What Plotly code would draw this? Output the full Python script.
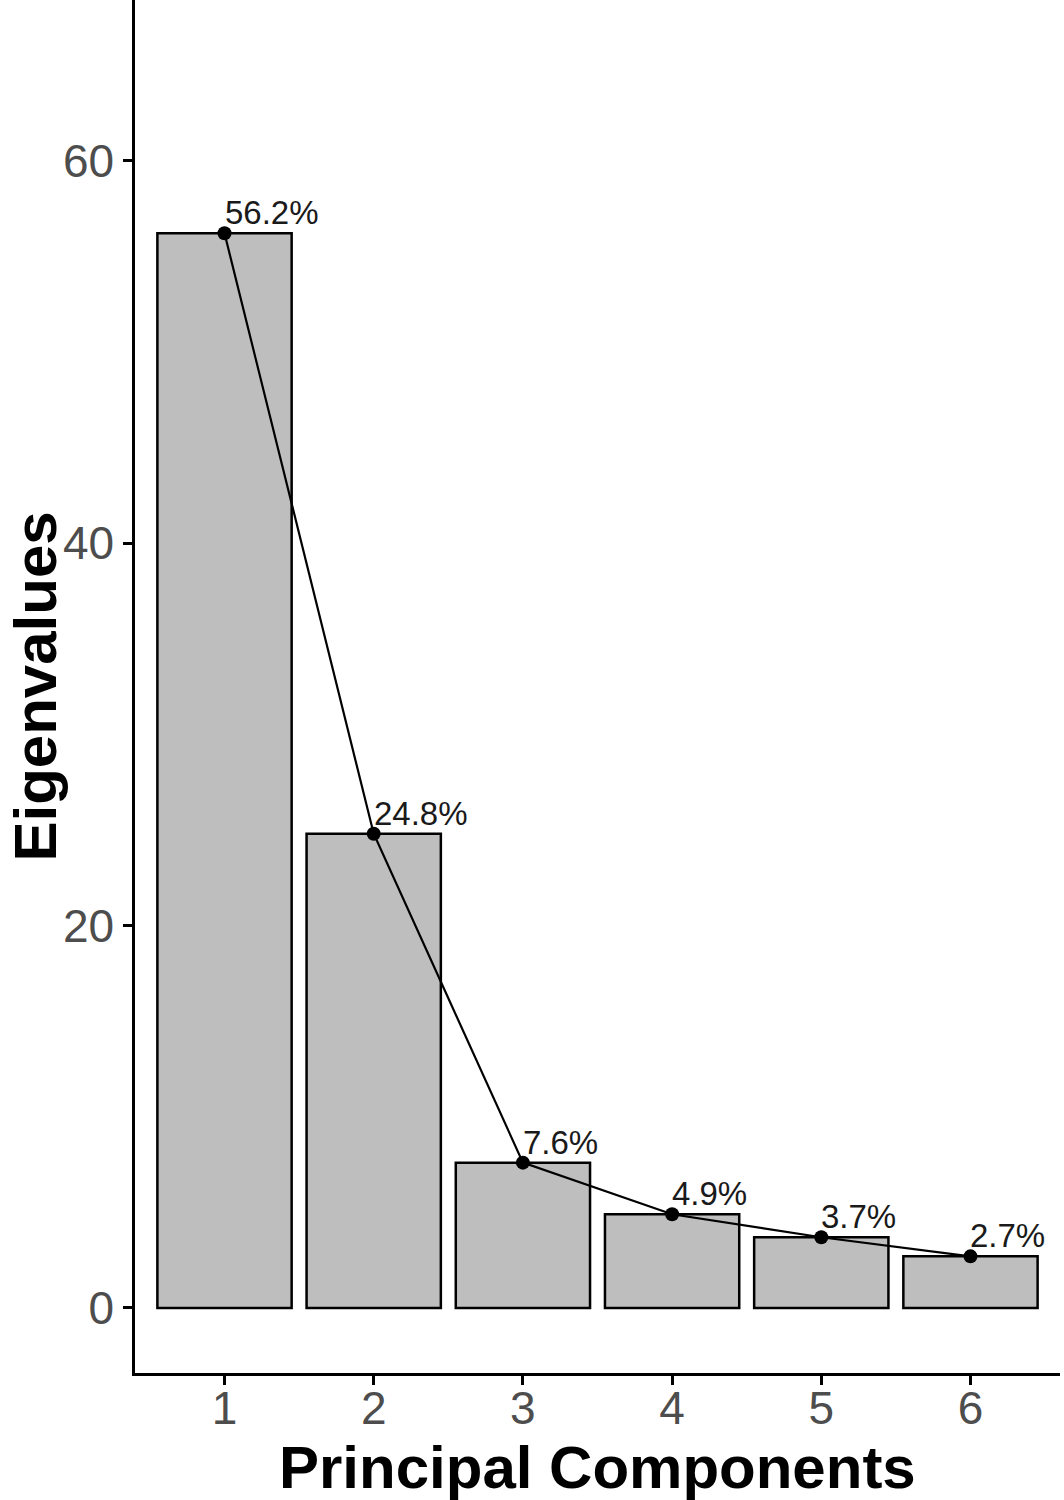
import plotly.graph_objects as go

components = [1, 2, 3, 4, 5, 6]
eigenvalues = [56.2, 24.8, 7.6, 4.9, 3.7, 2.7]
pct_labels = ["56.2%", "24.8%", "7.6%", "4.9%", "3.7%", "2.7%"]

fig = go.Figure()

# scree bars
fig.add_trace(go.Bar(x=components, y=eigenvalues, width=0.9,
                     marker_color='#bebebe',
                     marker_line_color='black',
                     marker_line_width=2.5,
                     showlegend=False))

# line + points
fig.add_trace(go.Scatter(x=components, y=eigenvalues,
                         mode='lines+markers',
                         line=dict(color='black', width=2.2),
                         marker=dict(color='black', size=14),
                         showlegend=False, cliponaxis=False))

# % labels sitting just above/right of each point
for xv, yv, lab in zip(components, eigenvalues, pct_labels):
    fig.add_annotation(x=xv, y=yv, text=lab, showarrow=False,
                       xanchor='left', yanchor='bottom', xshift=-2, yshift=0,
                       font=dict(family='Liberation Sans, Arial', size=33, color='#1a1a1a'))

# axis titles
fig.add_annotation(text='<b>Principal Components</b>', xref='paper', yref='paper',
                   x=0.5, y=0, yanchor='middle', yshift=-94, showarrow=False,
                   font=dict(size=60, color='black'))
fig.add_annotation(text='<b>Eigenvalues</b>', xref='paper', yref='paper',
                   x=0, y=0.5, xanchor='center', xshift=-100, textangle=-90, showarrow=False,
                   font=dict(size=60, color='black'))

fig.update_layout(
    width=1064, height=1500,
    margin=dict(l=135, r=4, t=0, b=127),
    plot_bgcolor='white', paper_bgcolor='white',
    font=dict(family='Liberation Sans, Arial'),
)

fig.update_xaxes(range=[0.4, 6.6], tickvals=components, automargin=False,
                 showline=True, linecolor='black', linewidth=2.5,
                 ticks='outside', ticklen=9, tickwidth=2.5, tickcolor='black',
                 tickfont=dict(size=46, color='#4d4d4d'), ticklabelstandoff=-16,
                 showgrid=False, zeroline=False)

fig.update_yaxes(range=[-3.4, 68.4], tickvals=[0, 20, 40, 60], automargin=False,
                 showline=True, linecolor='black', linewidth=2.5,
                 ticks='outside', ticklen=9, tickwidth=2.5, tickcolor='black',
                 tickfont=dict(size=46, color='#4d4d4d'),
                 showgrid=False, zeroline=False)

# drop the default 8px page margin so the figure sits at the window's corner
fig.write_html("out.html", config={'displayModeBar': False},
               post_script="document.body.style.margin='0';")
